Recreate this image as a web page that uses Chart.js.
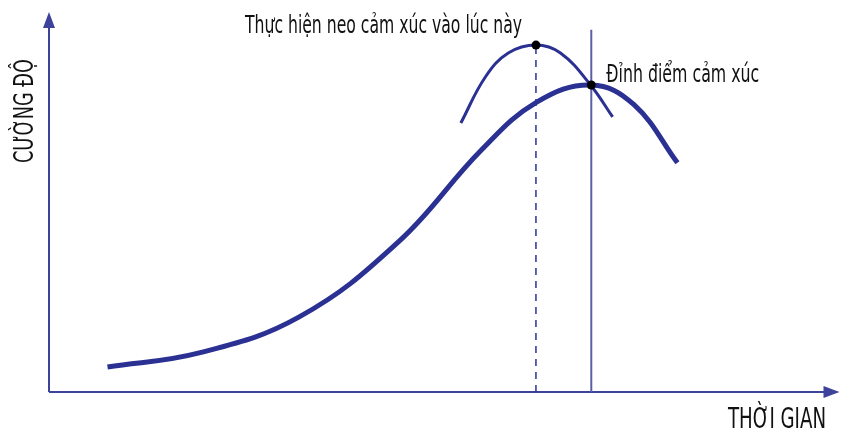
<!DOCTYPE html>
<html>
<head>
<meta charset="utf-8">
<script src="https://cdn.jsdelivr.net/npm/chart.js@4"></script>
<style>
  body { margin: 0; background: #fff; }
  canvas { display: block; }
</style>
</head>
<body>
<canvas id="grafico" width="844" height="433"></canvas>
<script>
// duong cam xuc chinh (thoi gian 0-100, cuong do 0-100)
const thoiGianChinh = [7.4, 19.0, 31.6, 44.2, 54.7, 61.7, 68.6, 74.0, 79.5];
const cuongDoChinh  = [6.6, 10.3, 19.7, 39.5, 63.7, 76.3, 80.8, 75.6, 60.3];

// duong neo cam xuc
const thoiGianNeo = [52.1, 55.2, 58.1, 61.6, 64.7, 68.5, 71.3];
const cuongDoNeo  = [70.8, 82.9, 89.2, 91.3, 89.2, 80.8, 72.4];

// moc thoi gian
const mocNeo = 61.6;
const mocDinh = 68.6;
const dinhNeo = 91.3;
const dinhCamXuc = 80.8;
const dinhDuongThang = 95.3;

const nhanNeo = 'Thực hiện neo cảm xúc vào lúc này';
const nhanDinh = 'Đỉnh điểm cảm xúc';
const nhanTrucY = 'CƯỜNG ĐỘ';
const nhanTrucX = 'THỜI GIAN';

const mauDuong = '#2b3192';
const mauTruc = '#3d429b';
const FONT = '"DejaVu Sans Condensed", "Liberation Sans Narrow", sans-serif';

const ghep = (xs, ys) => xs.map((x, i) => ({ x: x, y: ys[i] }));

function veChu(ctx, text, x, y, rongMuon, cao, canh) {
  ctx.font = cao + 'px ' + FONT;
  const rong = ctx.measureText(text).width;
  const k = rongMuon / rong;
  ctx.save();
  ctx.translate(x, y);
  ctx.scale(k, 1);
  ctx.textAlign = canh || 'left';
  ctx.textBaseline = 'alphabetic';
  ctx.fillStyle = '#111';
  ctx.fillText(text, 0, 0);
  ctx.restore();
}

const trucVaChu = {
  id: 'trucVaChu',
  beforeDatasetsDraw(chart) {
    const ctx = chart.ctx;
    const a = chart.chartArea;
    ctx.save();
    ctx.strokeStyle = mauTruc;
    ctx.fillStyle = mauTruc;
    ctx.lineWidth = 2;
    ctx.beginPath();
    ctx.moveTo(a.left, a.bottom);
    ctx.lineTo(a.left, a.top + 14);
    ctx.moveTo(a.left, a.bottom);
    ctx.lineTo(a.right - 10, a.bottom);
    ctx.stroke();
    // mui ten
    ctx.beginPath();
    ctx.moveTo(a.left, a.top);
    ctx.lineTo(a.left - 6, a.top + 16);
    ctx.lineTo(a.left + 6, a.top + 16);
    ctx.closePath();
    ctx.fill();
    ctx.beginPath();
    ctx.moveTo(a.right, a.bottom);
    ctx.lineTo(a.right - 16, a.bottom - 6);
    ctx.lineTo(a.right - 16, a.bottom + 6);
    ctx.closePath();
    ctx.fill();
    ctx.restore();
  },
  afterDraw(chart) {
    const ctx = chart.ctx;
    const xs = chart.scales.x;
    veChu(ctx, nhanNeo, 245, 33, 277, 24);
    veChu(ctx, nhanDinh, xs.getPixelForValue(mocDinh) + 15, 82, 153, 24);
    veChu(ctx, nhanTrucX, 826, 428, 98, 28, 'right');
    ctx.save();
    ctx.translate(33, 111);
    ctx.rotate(-Math.PI / 2);
    veChu(ctx, nhanTrucY, 0, 0, 104, 27, 'center');
    ctx.restore();
  }
};

new Chart(document.getElementById('grafico'), {
  type: 'scatter',
  data: {
    datasets: [
      {
        label: 'dinh',
        data: [{ x: mocNeo, y: dinhNeo }, { x: mocDinh, y: dinhCamXuc }],
        showLine: false,
        pointRadius: 4.5,
        pointBackgroundColor: '#000',
        pointBorderWidth: 0,
        order: 0
      },
      {
        label: 'chinh',
        data: ghep(thoiGianChinh, cuongDoChinh),
        showLine: true,
        borderColor: mauDuong,
        borderWidth: 5,
        pointRadius: 0,
        tension: 0.4,
        borderCapStyle: 'butt',
        order: 1
      },
      {
        label: 'neo',
        data: ghep(thoiGianNeo, cuongDoNeo),
        showLine: true,
        borderColor: mauDuong,
        borderWidth: 3,
        pointRadius: 0,
        tension: 0.4,
        order: 2
      },
      {
        label: 'moc neo',
        data: [{ x: mocNeo, y: 0 }, { x: mocNeo, y: dinhNeo }],
        showLine: true,
        borderColor: mauDuong,
        borderWidth: 1.5,
        borderDash: [7, 6],
        pointRadius: 0,
        order: 3
      },
      {
        label: 'moc dinh',
        data: [{ x: mocDinh, y: 0 }, { x: mocDinh, y: dinhDuongThang }],
        showLine: true,
        borderColor: '#5a5fa8',
        borderWidth: 2,
        pointRadius: 0,
        order: 4
      }
    ]
  },
  options: {
    responsive: false,
    animation: false,
    layout: { padding: { left: 49, right: 1, top: 12, bottom: 41 } },
    plugins: { legend: { display: false }, tooltip: { enabled: false } },
    scales: {
      x: { type: 'linear', min: 0, max: 100, display: false },
      y: { type: 'linear', min: 0, max: 100, display: false }
    }
  },
  plugins: [trucVaChu]
});
</script>
</body>
</html>
